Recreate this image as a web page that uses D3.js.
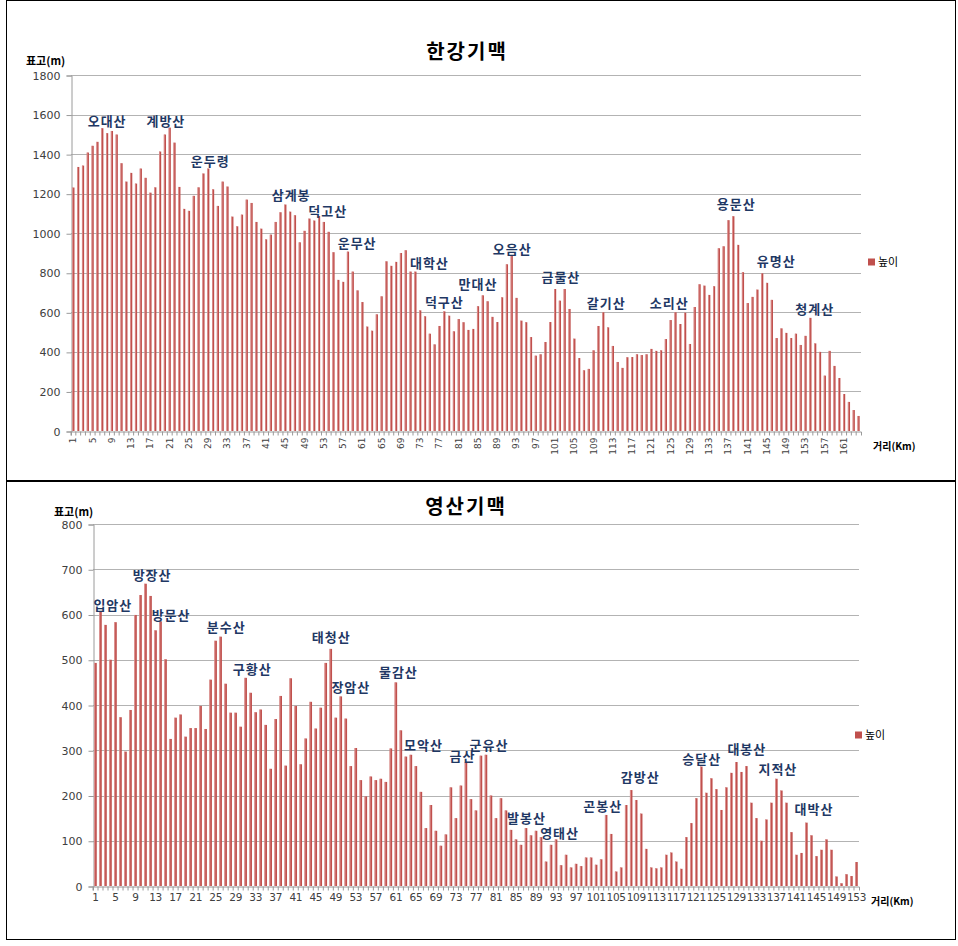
<!DOCTYPE html>
<html>
<head>
<meta charset="utf-8">
<script src="https://cdn.jsdelivr.net/npm/d3@7"></script>
<style>
  body { margin: 0; background: #fff; }
  svg text { font-family: "Noto Sans CJK KR", "Noto Sans", sans-serif; }
</style>
</head>
<body>
<div id="chart"></div>
<script>
// 한강기맥 elevations (m), 1 km steps
const hanValues = [
  1231, 1335, 1342, 1408, 1442, 1462, 1531, 1506, 1517, 1499,
  1354, 1261, 1305, 1251, 1327, 1280, 1205, 1232, 1413, 1499,
  1534, 1458, 1234, 1123, 1113, 1189, 1232, 1302, 1327, 1222,
  1138, 1261, 1236, 1084, 1035, 1094, 1170, 1153, 1057, 1023,
  969, 993, 1057, 1106, 1145, 1109, 1091, 954, 1012, 1074,
  1064, 1087, 1057, 1007, 904, 764, 754, 907, 806, 711,
  652, 528, 507, 590, 681, 858, 835, 855, 900, 914,
  806, 806, 610, 580, 492, 438, 531, 605, 583, 504,
  566, 550, 511, 516, 631, 686, 656, 577, 551, 676,
  843, 889, 673, 558, 550, 475, 381, 388, 450, 551,
  718, 659, 718, 617, 467, 369, 307, 314, 408, 531,
  600, 524, 430, 349, 319, 373, 374, 388, 384, 388,
  415, 405, 408, 465, 561, 600, 541, 598, 440, 627,
  742, 735, 688, 732, 924, 934, 1066, 1086, 941, 803,
  647, 678, 715, 797, 749, 663, 470, 519, 496, 470,
  492, 435, 481, 572, 443, 400, 280, 405, 329, 268,
  187, 147, 106, 76
];

// 영산기맥 elevations (m)
const yeongValues = [
  493, 606, 577, 500, 583, 373, 297, 389, 599, 643,
  668, 641, 565, 585, 501, 325, 372, 379, 330, 349,
  349, 398, 347, 456, 542, 551, 447, 383, 383, 352,
  460, 427, 384, 390, 356, 259, 369, 420, 266, 459,
  398, 269, 326, 407, 348, 394, 493, 524, 372, 419,
  370, 265, 305, 234, 198, 242, 234, 237, 230, 304,
  450, 344, 286, 290, 265, 208, 128, 179, 122, 89,
  114, 218, 150, 222, 274, 192, 167, 288, 290, 200,
  150, 194, 167, 124, 103, 91, 128, 112, 122, 108,
  54, 91, 103, 46, 69, 41, 49, 44, 63, 63,
  47, 59, 157, 115, 32, 41, 179, 212, 190, 160,
  82, 41, 39, 41, 69, 74, 54, 38, 108, 139,
  194, 264, 206, 238, 214, 168, 218, 250, 274, 252,
  265, 184, 150, 100, 147, 184, 237, 211, 184, 119,
  69, 73, 140, 112, 66, 80, 103, 80, 21, 6,
  26, 22, 53
];

// peak labels: name, km position, label height (m)
const hanPeakNames = ["오대산", "계방산", "운두령", "삼계봉", "덕고산", "운무산", "대학산", "덕구산",
  "만대산", "오음산", "금물산", "갈기산", "소리산", "용문산", "유명산", "청계산"];
const hanPeakKm = [8, 20.2, 29.4, 46.2, 53.8, 59.9, 74.9, 78, 85, 92.1, 102.2, 111.6, 124.7, 138.6, 146.9, 154.9];
const hanPeakHeight = [1564, 1564, 1363, 1190, 1111, 947, 848, 649, 742, 919, 777, 646, 646, 1143, 856, 617];

const yeongPeakNames = ["입암산", "방장산", "방문산", "분수산", "구황산", "태청산", "장암산", "물감산", "모악산",
  "금산", "군유산", "발봉산", "영태산", "곤봉산", "감방산", "승달산", "대봉산", "지적산", "대박산"];
const yeongPeakKm = [4.46, 12.3, 16.1, 27.1, 32.3, 48.1, 52, 61.5, 66.5, 74.3, 79.6, 87.1, 93.7, 102.3, 109.8, 122.1, 131.1, 137.3, 144.5];
const yeongPeakHeight = [619, 687, 597, 572, 478, 549, 438, 472, 310, 286, 310, 150, 117, 175, 240, 280, 302, 258, 170];

const hanTicks = d3.range(0, 1801, 200);
const yeongTicks = d3.range(0, 801, 100);

const W = 958, H = 946;
const barColor = "#c0504d";
const labelColor = "#1f3864";

const svg = d3.select("#chart").append("svg")
  .attr("width", W)
  .attr("height", H);

// panel borders
svg.append("rect").attr("x", 6.5).attr("y", 0.5).attr("width", 949).attr("height", 480)
  .attr("fill", "none").attr("stroke", "#000");
svg.append("rect").attr("x", 6.5).attr("y", 481.5).attr("width", 949).attr("height", 458)
  .attr("fill", "none").attr("stroke", "#000");

function drawPanel(cfg) {
  const g = svg.append("g");
  const n = cfg.values.length;
  const cats = d3.range(1, n + 1);

  const x = d3.scaleBand().domain(cats).range([cfg.left, cfg.right]).paddingInner(cfg.pad).paddingOuter(cfg.pad / 2);
  const xKm = d3.scaleLinear().domain([1, n]).range([x(1) + x.bandwidth() / 2, x(n) + x.bandwidth() / 2]);
  const y = d3.scaleLinear().domain([0, cfg.max]).range([cfg.bottom, cfg.top]);

  // gridlines
  g.append("g").selectAll("line").data(cfg.ticks.filter(t => t > 0)).join("line")
    .attr("x1", cfg.left).attr("x2", cfg.right)
    .attr("y1", d => Math.round(y(d)) + 0.5).attr("y2", d => Math.round(y(d)) + 0.5)
    .attr("stroke", "#b3b3b3").attr("stroke-width", 1);

  // y axis
  const yAxis = g.append("g")
    .attr("transform", `translate(${cfg.left + 0.5},0.5)`)
    .call(d3.axisLeft(y).tickValues(cfg.ticks).tickFormat(d3.format("d")).tickSize(5).tickPadding(6));
  yAxis.select(".domain").attr("stroke", "#9a9a9a");
  yAxis.selectAll(".tick line").attr("stroke", "#9a9a9a");
  yAxis.selectAll(".tick text").attr("fill", "#404040").style("font-size", "11px")
    .style("font-family", "'DejaVu Sans', sans-serif");

  // bars
  g.append("g").selectAll("rect").data(cfg.values).join("rect")
    .attr("x", (d, i) => x(i + 1))
    .attr("y", d => y(d))
    .attr("width", x.bandwidth())
    .attr("height", d => cfg.bottom - y(d))
    .attr("fill", barColor);
  g.append("g").selectAll("rect").data(cfg.values).join("rect")
    .attr("x", (d, i) => x(i + 1))
    .attr("y", d => y(d))
    .attr("width", x.bandwidth() * 0.35)
    .attr("height", d => cfg.bottom - y(d))
    .attr("fill", "#e09a98");

  // x axis
  const xAxis = g.append("g")
    .attr("transform", `translate(0,${cfg.bottom + 0.5})`)
    .call(d3.axisBottom(x).tickSize(4).tickFormat(d => (d - 1) % 4 === 0 ? d : ""));
  xAxis.select(".domain").attr("stroke", "#9a9a9a");
  xAxis.selectAll(".tick line").attr("stroke", "#9a9a9a")
    .attr("transform", `translate(${-x.step() / 2},0)`);
  const xt = xAxis.selectAll(".tick text").attr("fill", "#404040")
    .style("font-family", "'DejaVu Sans', sans-serif");
  if (cfg.rotate) {
    xt.style("font-size", "9px")
      .attr("transform", "rotate(-90)")
      .attr("text-anchor", "end")
      .attr("x", -6).attr("y", 0).attr("dy", "0.32em");
  } else {
    xt.style("font-size", "10.5px").attr("y", 7).attr("dy", "0.71em").attr("letter-spacing", "-0.3px");
  }

  // peak labels
  g.append("g").selectAll("text").data(cfg.peakNames).join("text")
    .attr("x", (d, i) => xKm(cfg.peakKm[i]))
    .attr("y", (d, i) => y(cfg.peakHeight[i]))
    .attr("text-anchor", "middle")
    .attr("dy", "0.35em")
    .attr("fill", labelColor)
    .attr("letter-spacing", "1px")
    .style("font-size", "13px")
    .style("font-weight", "bold")
    .text(d => d);

  // title, axis titles, legend
  g.append("text").attr("x", cfg.titleX).attr("y", cfg.titleY)
    .attr("text-anchor", "middle").attr("dy", "0.35em")
    .attr("letter-spacing", "2px")
    .style("font-size", "20px").style("font-weight", "bold").attr("fill", "#000")
    .text(cfg.title);
  g.append("text").attr("x", cfg.yTitleX).attr("y", cfg.yTitleY)
    .attr("dy", "0.35em").style("font-size", "11px").style("font-weight", "bold").attr("fill", "#000")
    .text("표고(m)");
  g.append("text").attr("x", cfg.right + 12).attr("y", cfg.bottom + 15)
    .attr("dy", "0.35em").style("font-size", "10px").style("font-weight", "bold").attr("fill", "#000")
    .text("거리(Km)");
  g.append("rect").attr("x", cfg.legX).attr("y", cfg.legY - 3.5).attr("width", 7).attr("height", 7)
    .attr("fill", barColor);
  g.append("text").attr("x", cfg.legX + 10).attr("y", cfg.legY)
    .attr("dy", "0.35em").style("font-size", "11px").attr("fill", "#000")
    .text("높이");
}

drawPanel({
  values: hanValues, max: 1800, ticks: hanTicks,
  left: 71, right: 861, top: 75, bottom: 431, pad: 0.55, rotate: true,
  peakNames: hanPeakNames, peakKm: hanPeakKm, peakHeight: hanPeakHeight,
  title: "한강기맥", titleX: 467, titleY: 52,
  yTitleX: 26, yTitleY: 61, legX: 868, legY: 262
});

drawPanel({
  values: yeongValues, max: 800, ticks: yeongTicks,
  left: 93, right: 859, top: 524, bottom: 886, pad: 0.5, rotate: false,
  peakNames: yeongPeakNames, peakKm: yeongPeakKm, peakHeight: yeongPeakHeight,
  title: "영산기맥", titleX: 466, titleY: 507,
  yTitleX: 54, yTitleY: 512, legX: 855, legY: 735
});
</script>
</body>
</html>
